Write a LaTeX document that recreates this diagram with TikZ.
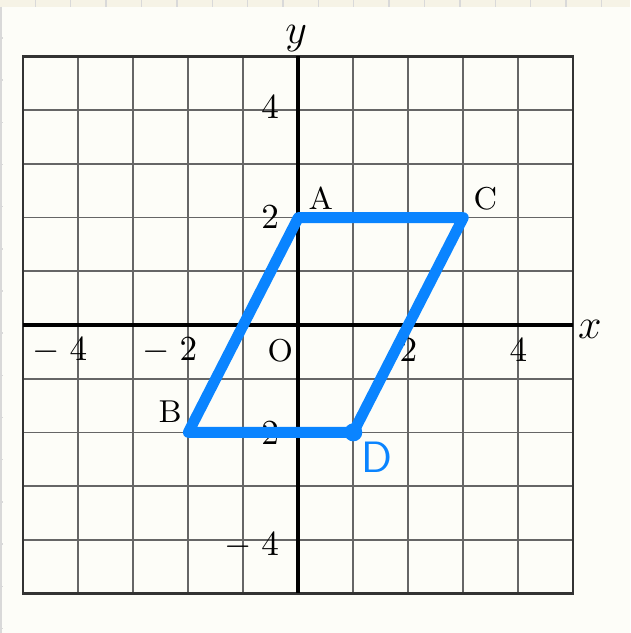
\documentclass[tikz,border=0pt]{standalone}
\usepackage{amsmath}
\usetikzlibrary{positioning}
\definecolor{penblue}{HTML}{0A84FF}
\definecolor{pagebg}{HTML}{FDFDF8}
\definecolor{rulerbg}{HTML}{F6F3E6}
\newcommand{\negnum}[1]{\llap{$-\;$}$#1$}

\begin{document}
\begin{tikzpicture}[x=0.55cm,y=0.537cm,
  gridline/.style={black!60,line width=0.5pt},
  axisline/.style={black,line width=1.2pt},
  pen/.style={penblue,line width=3.1pt,line join=round,line cap=round},
  ptlabel/.style={font=\small,inner sep=0pt},
  ticklabel/.style={inner sep=0pt}]
  % fondo y regla de la pantalla
  \useasboundingbox (-5.424,-5.736) rectangle (6.031,6.052);
  \fill[pagebg] (-5.424,-5.736) rectangle (6.031,6.052);
  \begin{scope}[shift={(-5.424,6.052)},x=0.01cm,y=-0.01cm]
    \fill[rulerbg] (0,0) rectangle (630,7);
    \foreach \i in {1,...,17} \draw[black!15,line width=0.4pt] (35.4*\i,0) -- (35.4*\i,7);
    \draw[black!15,line width=0.6pt] (1,7) -- (1,633);
    \foreach \j in {0,...,14} \draw[black!15,line width=0.4pt] (0,38+42.2*\j) -- (3,38+42.2*\j);
  \end{scope}
  % cuadricula
  \draw[gridline,step={(1,1)}] (-5,-5) grid (5,5);
  \draw[black!80,line width=0.6pt] (-5,-5) rectangle (5,5);
  % ejes
  \draw[axisline] (-5,0) -- (5,0);
  \draw[axisline] (0,-5) -- (0,5);
  \node[font=\large] (xlab) at (5.3,-0.09) {$x$};
  \node[font=\large] (ylab) at (-0.04,5.34) {$y$};
  \node[ptlabel] (O) at (-0.33,-0.47) {O};
  % numeros de los ejes
  \foreach \k/\t in {-4/\negnum{4},-2/\negnum{2},2/$2$,4/$4$}
    \node[ticklabel] (xt\k) at (\k,-0.47) {\t};
  \foreach \k/\t/\h in {4/$4$/4.06,2/$2$/2.01,-2/\negnum{2}/-2.04,-4/\negnum{4}/-4.1}
    \node[ticklabel] (yt\k) at (-0.51,\h) {\t};
  % vertices
  \coordinate (A) at (0,2);
  \coordinate (B) at (-2,-2);
  \coordinate (C) at (3,2);
  \coordinate (D) at (1,-2);
  \foreach \p in {A,B,C,D} \fill (\p) circle (0.04cm);
  % paralelogramo a mano
  \draw[pen] (A) -- (C) -- (D) -- (B) -- cycle;
  \fill[penblue] (D) circle (0.09cm);
  \node[ptlabel] (lA) at (0.41,2.36) {A};
  \node[ptlabel] (lC) at (3.4,2.36) {C};
  \node[ptlabel] (lB) at (-2.33,-1.62) {B};
  \node[font=\fontsize{12.5}{14}\sffamily,text=penblue] (lD) at (1.43,-2.46) {D};
\end{tikzpicture}
\end{document}
